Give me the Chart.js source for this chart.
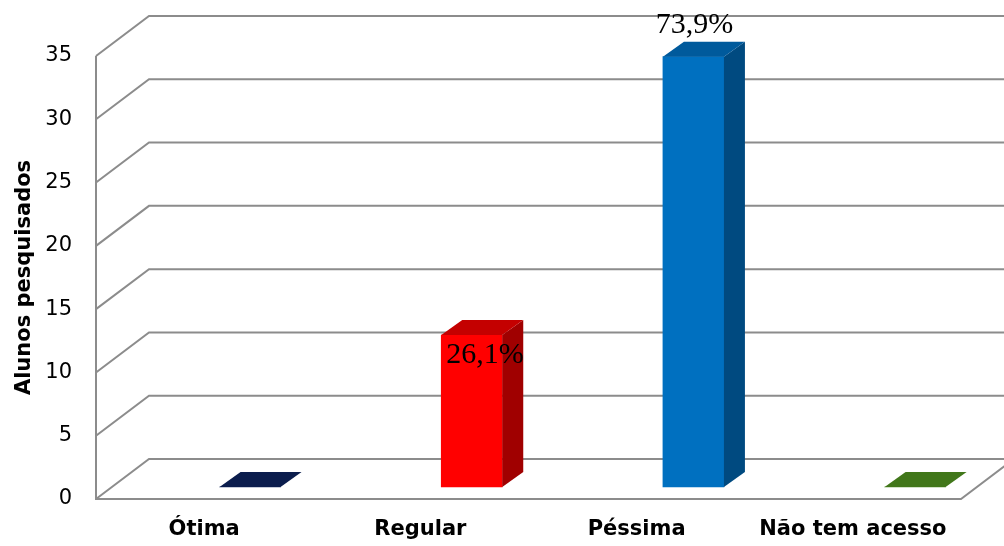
<!DOCTYPE html>
<html lang="pt">
<head>
<meta charset="utf-8">
<title>Alunos pesquisados</title>
<script src="https://cdn.jsdelivr.net/npm/chart.js@4.4.1/dist/chart.umd.min.js"></script>
<style>
  html, body { margin: 0; padding: 0; background: #ffffff; }
  canvas { display: block; }
</style>
</head>
<body>
<canvas id="grafico" width="1004" height="546"></canvas>
<script>
// Categorias e número de alunos por avaliação
const categorias = ['Ótima', 'Regular', 'Péssima', 'Não tem acesso'];
const alunos = [0, 12, 34, 0];

// Cores das faces das colunas (frente, topo, lateral)
const corFrente = ['#1a2f63', '#ff0000', '#0070c0', '#4a8a1e'];
const corTopo = ['#0b1d4d', '#c40000', '#005a9c', '#41771a'];
const corLado = ['#08173e', '#a00000', '#004a80', '#36651a'];

// Onde fica o rótulo de cada coluna
const posRotulo = ['', 'dentro', 'acima', ''];

const total = alunos.reduce((s, v) => s + v, 0);
const pct = v => (v / total * 100).toFixed(1).replace('.', ',') + '%';

// Paredes e piso em perspectiva
const paredes3d = {
  id: 'paredes3d',
  beforeDatasetsDraw(chart, args, o) {
    const { ctx, chartArea: a, scales: { y } } = chart;
    ctx.save();
    ctx.strokeStyle = o.cor;
    ctx.lineWidth = 2;
    ctx.lineJoin = 'miter';
    y.ticks.forEach(t => {
      const py = y.getPixelForValue(t.value);
      ctx.beginPath();
      ctx.moveTo(a.left, py);
      ctx.lineTo(a.left + o.dx, py + o.dy);
      ctx.lineTo(a.right + o.dx, py + o.dy);
      ctx.stroke();
    });
    const y0 = y.getPixelForValue(0);
    const yMax = y.getPixelForValue(y.max);
    ctx.beginPath();
    ctx.moveTo(a.left, yMax);
    ctx.lineTo(a.left, y0);
    ctx.lineTo(a.right, y0);
    ctx.lineTo(a.right + o.dx, y0 + o.dy);
    ctx.stroke();
    ctx.restore();
  }
};

// Faces de topo e lateral das colunas, mais os rótulos de percentual
const colunas3d = {
  id: 'colunas3d',
  afterDatasetsDraw(chart, args, o) {
    const { ctx } = chart;
    const meta = chart.getDatasetMeta(0);
    ctx.save();
    meta.data.forEach((bar, i) => {
      const { x, y, base, width } = bar.getProps(['x', 'y', 'base', 'width'], true);
      const l = x - width / 2, r = x + width / 2;
      // lateral
      if (base - y > 0.5) {
        ctx.fillStyle = corLado[i];
        ctx.beginPath();
        ctx.moveTo(r, y);
        ctx.lineTo(r + o.dx, y + o.dy);
        ctx.lineTo(r + o.dx, base + o.dy);
        ctx.lineTo(r, base);
        ctx.closePath();
        ctx.fill();
      }
      // topo
      ctx.fillStyle = corTopo[i];
      ctx.beginPath();
      ctx.moveTo(l, y);
      ctx.lineTo(l + o.dx, y + o.dy);
      ctx.lineTo(r + o.dx, y + o.dy);
      ctx.lineTo(r, y);
      ctx.closePath();
      ctx.fill();
    });
    // rótulos
    ctx.fillStyle = '#000000';
    ctx.font = '30px "Liberation Serif", "Times New Roman", serif';
    ctx.textBaseline = 'alphabetic';
    meta.data.forEach((bar, i) => {
      if (!alunos[i]) return;
      const { x, y, width } = bar.getProps(['x', 'y', 'width'], true);
      const txt = pct(alunos[i]);
      if (posRotulo[i] === 'dentro') {
        ctx.textAlign = 'left';
        ctx.fillText(txt, x - width / 2 + 5, y + 28);
      } else {
        ctx.textAlign = 'center';
        ctx.fillText(txt, x + 1, y - 24);
      }
    });
    ctx.restore();
  }
};

new Chart(document.getElementById('grafico'), {
  type: 'bar',
  data: {
    labels: categorias,
    datasets: [{
      label: 'Alunos pesquisados',
      data: alunos.map((v, i) => ({ x: i, y: v })),
      xAxisID: 'xb',
      yAxisID: 'yb',
      backgroundColor: corFrente,
      borderWidth: 0,
      barThickness: 61
    }]
  },
  options: {
    responsive: false,
    animation: false,
    layout: { padding: { top: 56, right: 43, left: 0, bottom: 0 } },
    plugins: {
      legend: { display: false },
      tooltip: { enabled: false },
      paredes3d: { cor: '#8c8c8c', dx: 53, dy: -40 },
      colunas3d: { dx: 21, dy: -15 }
    },
    scales: {
      x: {
        type: 'category',
        offset: true,
        grid: { display: false, drawTicks: false },
        border: { display: false },
        ticks: {
          color: '#000000',
          padding: 18,
          font: { family: '"DejaVu Sans", sans-serif', size: 21, weight: 'bold' }
        },
        afterFit(s) { s.height = 47; }
      },
      y: {
        type: 'linear',
        min: 0,
        max: 35,
        grid: { display: false, drawTicks: false },
        border: { display: false },
        ticks: {
          stepSize: 5,
          color: '#000000',
          padding: 24,
          font: { family: '"DejaVu Sans", sans-serif', size: 21 }
        },
        title: {
          display: true,
          text: 'Alunos pesquisados',
          color: '#000000',
          padding: { top: 12, bottom: 0 },
          font: { family: '"DejaVu Sans", sans-serif', size: 21, weight: 'bold' }
        },
        afterFit(s) { s.width = 96; }
      },
      // escalas internas do plano onde as colunas se apoiam
      xb: { type: 'linear', display: false, offset: false, min: -0.695, max: 3.207 },
      yb: { type: 'linear', display: false, min: -0.948, max: 34.05 }
    }
  },
  plugins: [paredes3d, colunas3d]
});
</script>
</body>
</html>
